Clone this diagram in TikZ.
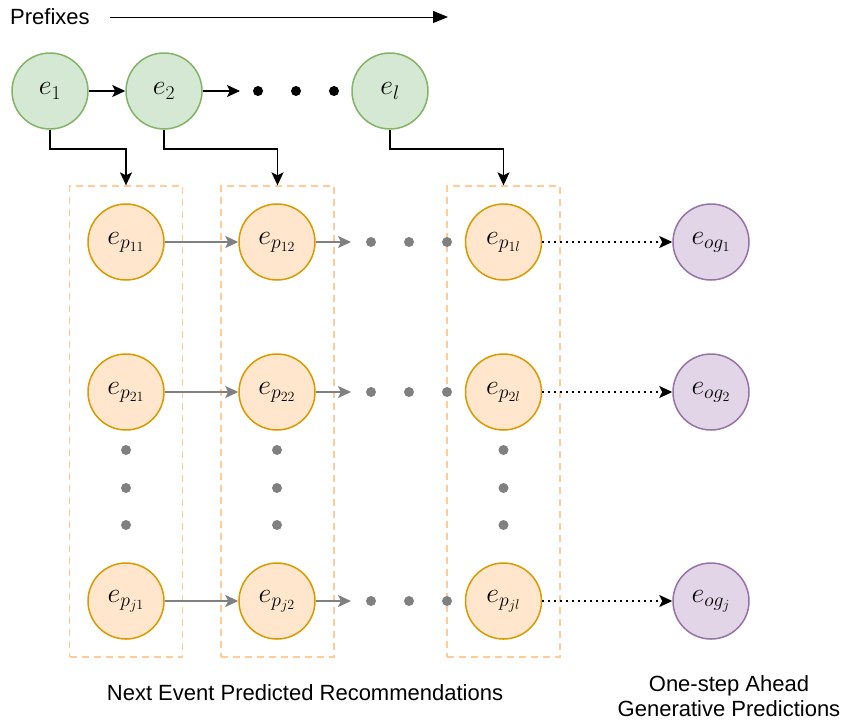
\RequirePackage{fix-cm}
\documentclass[tikz,border=0pt]{standalone}
\usepackage{fontspec}
\setmainfont{Liberation Sans}
\usetikzlibrary{arrows.meta}
\definecolor{gfill}{HTML}{D5E8D4}
\definecolor{gline}{HTML}{82B366}
\definecolor{ofill}{HTML}{FFE6CC}
\definecolor{oline}{HTML}{D79B00}
\definecolor{pfill}{HTML}{E1D5E7}
\definecolor{pline}{HTML}{9673A6}
\definecolor{boxline}{HTML}{FFCC99}
\definecolor{grayline}{HTML}{808080}
\begin{document}
\begin{tikzpicture}[x=1pt,y=-1pt,
  eventnode/.style={circle, minimum size=76pt, inner sep=0pt, line width=1.5pt,
    font=\fontsize{28}{32}\selectfont},
  prefixnode/.style={eventnode, draw=gline, fill=gfill},
  prednode/.style={eventnode, draw=oline, fill=ofill},
  gennode/.style={eventnode, draw=pline, fill=pfill},
  groupbox/.style={draw=boxline, dash pattern=on 7pt off 5pt, line width=1.3pt,
    minimum width=113pt, minimum height=471pt, inner sep=0pt},
  bigdot/.style={circle, fill=black, minimum size=10pt, inner sep=0pt},
  graydot/.style={circle, fill=grayline, minimum size=10pt, inner sep=0pt},
  blackarrow/.style={-{Stealth[length=13pt,width=12pt,inset=3pt]}, line width=1.6pt},
  grayarrow/.style={-{Stealth[length=13pt,width=12pt,inset=3pt]}, line width=1.6pt, grayline},
  dotarrow/.style={-{Stealth[length=13pt,width=12pt,inset=3pt]}, line width=1.6pt,
    dash pattern=on 2pt off 4pt},
  captiontext/.style={font=\fontsize{22}{25}\selectfont, align=center}]
\useasboundingbox (0,0) rectangle (846,724);

% prefix timeline
\node[captiontext, anchor=west, inner sep=0pt] (prefixes) at (10,17) {Prefixes};
\coordinate (tstart) at (110,17);
\coordinate (tend) at (448,17);
\draw[-{Stealth[length=15pt,width=12pt,inset=0pt]}, line width=1pt] (tstart) -- (tend);

% prefix events
\node[prefixnode] (e1) at (50,91) {$e_1$};
\node[prefixnode] (e2) at (164,91) {$e_2$};
\node[prefixnode] (el) at (390,91) {$e_l$};
\node[bigdot] (d1) at (258,91) {};
\node[bigdot] (d2) at (296,91) {};
\node[bigdot] (d3) at (334,91) {};
\coordinate (e2out) at (240,91);
\draw[blackarrow] (e1) -- (e2);
\draw[blackarrow] (e2) -- (e2out);

% groups of predictions
\node[groupbox] (b1) at (126,421.5) {};
\node[groupbox] (b2) at (277.5,421.5) {};
\node[groupbox] (b3) at (503.5,421.5) {};

\draw[blackarrow] (e1.south) -- ++(0,19) -| (b1.north);
\draw[blackarrow] (e2.south) -- ++(0,19) -| (b2.north);
\draw[blackarrow] (el.south) -- ++(0,19) -| (b3.north);

% predicted events
\foreach \r/\y/\s in {1/242/1, 2/392/2, j/601/j}{
  \node[prednode] (p\r1) at (126,\y) {$e_{p_{\s 1}}$};
  \node[prednode] (p\r2) at (277,\y) {$e_{p_{\s 2}}$};
  \node[prednode] (p\r l) at (503.5,\y) {$e_{p_{\s l}}$};
  \node[gennode] (g\r) at (711,\y) {$e_{og_{\s}}$};
  \node[graydot] (q\r a) at (371,\y) {};
  \node[graydot] (q\r b) at (409,\y) {};
  \node[graydot] (q\r c) at (447,\y) {};
  \coordinate (o\r) at (351,\y);
  \draw[grayarrow] (p\r1) -- (p\r2);
  \draw[grayarrow] (p\r2) -- (o\r);
  \draw[dotarrow] (p\r l) -- (g\r);
}

% vertical ellipses
\foreach \x/\c in {126/a, 277/b, 503.5/c}{
  \node[graydot] (v\c1) at (\x,450) {};
  \node[graydot] (v\c2) at (\x,488) {};
  \node[graydot] (v\c3) at (\x,525) {};
}

% captions
\node[captiontext] (cap1) at (305,693) {Next Event Predicted Recommendations};
\node[captiontext] (cap2) at (729,696) {One-step Ahead\\Generative Predictions};
\end{tikzpicture}
\end{document}
